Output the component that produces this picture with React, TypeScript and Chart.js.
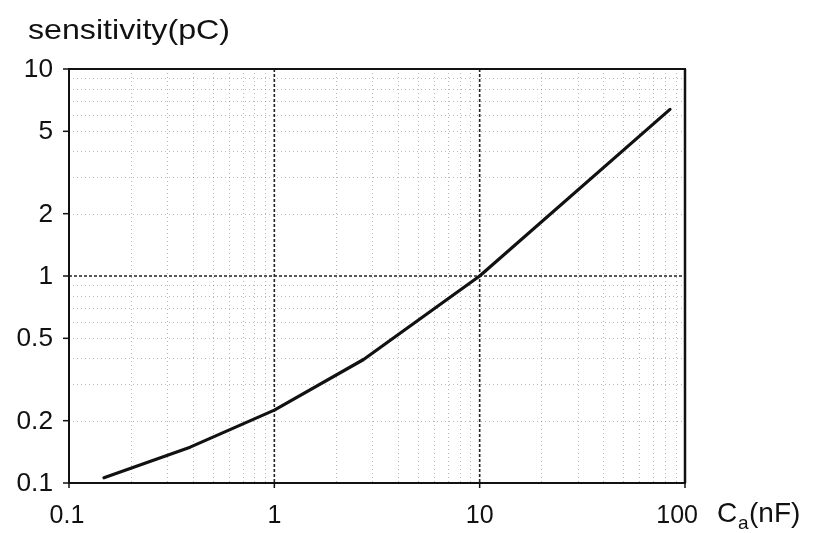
import React, { useEffect, useRef } from "react";
import { Chart, registerables } from "chart.js";

Chart.register(...registerables);

// Data (log-log)
const capacitanceNF = [0.148, 0.389, 1, 2.72, 10, 84.5];
const sensitivityPC = [0.106, 0.149, 0.225, 0.395, 1.0, 6.38];

const yTickValues = [0.1, 0.2, 0.5, 1, 2, 5, 10];
const yTickLabels = ["0.1", "0.2", "0.5", "1", "2", "5", "10"];
const xTickValues = [0.1, 1, 10, 100];
const xTickLabels = ["0.1", "1", "10", "100"];
const majorXGrid = [1, 10];
const majorYGrid = [1];
const decades = [0.1, 1, 10];
const minorSteps = [2, 3, 4, 5, 6, 7, 8, 9];

const FONT = "'Liberation Sans', Arial, sans-serif";
const INK = "#111";

function stretchText(ctx: CanvasRenderingContext2D, text: string, x: number, y: number, sx: number, align: CanvasTextAlign) {
  ctx.save();
  ctx.translate(x, y);
  ctx.scale(sx, 1);
  ctx.textAlign = align;
  ctx.fillText(text, 0, 0);
  ctx.restore();
}

const decorPlugin = {
  id: "decor",
  beforeDatasetsDraw(chart: any) {
    const { ctx, chartArea } = chart;
    const xs = chart.scales.x;
    const ys = chart.scales.y;
    const { left, right, top, bottom } = chartArea;
    ctx.save();
    // minor dotted grid
    ctx.strokeStyle = "rgba(0,0,0,0.27)";
    ctx.lineWidth = 1;
    ctx.setLineDash([1, 3]);
    decades.forEach((d) => {
      minorSteps.forEach((k) => {
        const v = d * k;
        if (v < 100) {
          const px = Math.round(xs.getPixelForValue(v)) + 0.5;
          ctx.beginPath();
          ctx.moveTo(px, top);
          ctx.lineTo(px, bottom);
          ctx.stroke();
        }
        if (v < 10) {
          const py = Math.round(ys.getPixelForValue(v)) + 0.5;
          ctx.beginPath();
          ctx.moveTo(left, py);
          ctx.lineTo(right, py);
          ctx.stroke();
        }
      });
    });
    // major dashed grid
    ctx.strokeStyle = "#222";
    ctx.lineWidth = 1.6;
    ctx.setLineDash([3, 2]);
    majorXGrid.forEach((v) => {
      const px = xs.getPixelForValue(v);
      ctx.beginPath();
      ctx.moveTo(px, top);
      ctx.lineTo(px, bottom);
      ctx.stroke();
    });
    majorYGrid.forEach((v) => {
      const py = ys.getPixelForValue(v);
      ctx.beginPath();
      ctx.moveTo(left, py);
      ctx.lineTo(right, py);
      ctx.stroke();
    });
    ctx.restore();
  },
  afterDatasetsDraw(chart: any) {
    const { ctx, chartArea } = chart;
    const xs = chart.scales.x;
    const ys = chart.scales.y;
    const { left, right, top, bottom } = chartArea;
    ctx.save();
    ctx.setLineDash([]);
    ctx.strokeStyle = INK;
    ctx.lineWidth = 2;
    ctx.strokeRect(left, top, right - left, bottom - top);
    ctx.lineWidth = 2.5;
    ctx.beginPath();
    ctx.moveTo(right, top);
    ctx.lineTo(right, bottom);
    ctx.stroke();
    // tick marks
    ctx.lineWidth = 1.5;
    yTickValues.forEach((v) => {
      const py = ys.getPixelForValue(v);
      ctx.beginPath();
      ctx.moveTo(left - 6, py);
      ctx.lineTo(left, py);
      ctx.stroke();
    });
    xTickValues.forEach((v) => {
      const px = xs.getPixelForValue(v);
      ctx.beginPath();
      ctx.moveTo(px, bottom);
      ctx.lineTo(px, bottom + 5);
      ctx.stroke();
    });
    // labels
    ctx.fillStyle = INK;
    ctx.font = `25px ${FONT}`;
    ctx.textBaseline = "middle";
    yTickValues.forEach((v, i) => {
      stretchText(ctx, yTickLabels[i], 53, ys.getPixelForValue(v) + 1, 1.05, "right");
    });
    ctx.textBaseline = "alphabetic";
    xTickValues.forEach((v, i) => {
      const px = xs.getPixelForValue(v);
      if (i === xTickValues.length - 1) {
        stretchText(ctx, xTickLabels[i], px + 13, 523, 1.0, "right");
      } else if (i === 0) {
        stretchText(ctx, xTickLabels[i], px - 2, 523, 1.0, "center");
      } else {
        stretchText(ctx, xTickLabels[i], px, 523, 1.0, "center");
      }
    });
    // x-axis title C_a(nF)
    ctx.font = `28px ${FONT}`;
    stretchText(ctx, "C", 717, 522, 1.0, "left");
    ctx.font = `19px ${FONT}`;
    stretchText(ctx, "a", 738, 529, 1.0, "left");
    ctx.font = `28px ${FONT}`;
    stretchText(ctx, "(nF)", 749, 522, 1.0, "left");
    // y-axis title
    ctx.font = `28px ${FONT}`;
    const title = "sensitivity(pC)";
    const w = ctx.measureText(title).width;
    stretchText(ctx, title, 28, 39, 202 / w, "left");
    ctx.restore();
  },
};

export default function App() {
  const ref = useRef<HTMLCanvasElement>(null);
  useEffect(() => {
    document.body.style.margin = "0";
    const canvas = ref.current;
    if (!canvas) return;
    const chart = new Chart(canvas, {
      type: "line",
      data: {
        datasets: [
          {
            data: capacitanceNF.map((x, i) => ({ x, y: sensitivityPC[i] })),
            borderColor: "#111",
            borderWidth: 3.2,
            pointRadius: 0,
            tension: 0,
            borderCapStyle: "round",
            borderJoinStyle: "round",
            fill: false,
          },
        ],
      },
      options: {
        responsive: false,
        animation: false,
        layout: { padding: { left: 69, top: 69, right: 130, bottom: 50 } },
        plugins: { legend: { display: false }, title: { display: false }, tooltip: { enabled: false } },
        scales: {
          x: { type: "logarithmic", min: 0.1, max: 100, display: false },
          y: { type: "logarithmic", min: 0.1, max: 10, display: false },
        },
      },
      plugins: [decorPlugin],
    });
    return () => chart.destroy();
  }, []);
  return (
    <div style={{ width: 815, height: 533, background: "#fff" }}>
      <canvas ref={ref} width={815} height={533} style={{ display: "block" }} />
    </div>
  );
}
